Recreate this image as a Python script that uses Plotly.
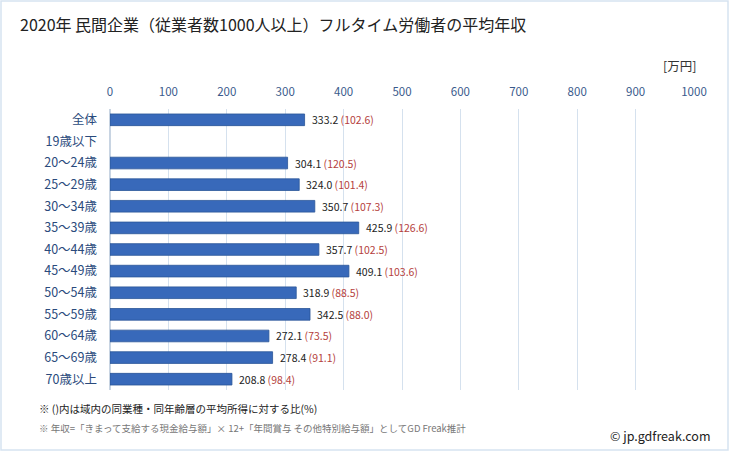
import plotly.graph_objects as go

categories = ["全体", "19歳以下", "20～24歳", "25～29歳", "30～34歳", "35～39歳", "40～44歳",
              "45～49歳", "50～54歳", "55～59歳", "60～64歳", "65～69歳", "70歳以上"]
values = [333.2, None, 304.1, 324.0, 350.7, 425.9, 357.7, 409.1, 318.9, 342.5, 272.1, 278.4, 208.8]
ratios = [102.6, None, 120.5, 101.4, 107.3, 126.6, 102.5, 103.6, 88.5, 88.0, 73.5, 91.1, 98.4]
tick_vals = [0, 100, 200, 300, 400, 500, 600, 700, 800, 900, 1000]

FONT = "Noto Sans CJK JP"

fig = go.Figure()
fig.add_trace(go.Bar(
    y=categories, x=values, orientation="h", width=0.54,
    marker=dict(color="#3869ba", line=dict(color="#2a5698", width=0.8)),
    hoverinfo="skip",
))

annotations = []
for c, v, r in zip(categories, values, ratios):
    if v is None:
        continue
    annotations.append(dict(
        x=v, y=c, xref="x", yref="y", xanchor="left", yanchor="middle", xshift=5,
        showarrow=False,
        text=f"{v:.1f} <span style='color:#b5413d'>({r:.1f})</span>",
        font=dict(family=FONT, size=10.5, color="#222222"),
    ))

pix = [
    dict(x=18, y=24, text="2020年 民間企業（従業者数1000人以上）フルタイム労働者の平均年収",
         xanchor="left", font=dict(family=FONT, size=16, color="#222222")),
    dict(x=698, y=66, text="[万円]", xanchor="right", font=dict(family=FONT, size=12.5, color="#333333")),
    dict(x=37, y=409, text="※ ()内は域内の同業種・同年齢層の平均所得に対する比(%)",
         xanchor="left", font=dict(family=FONT, size=10.5, color="#222222")),
    dict(x=37, y=428, text="※ 年収=「きまって支給する現金給与額」× 12+「年間賞与 その他特別給与額」としてGD Freak推計",
         xanchor="left", font=dict(family=FONT, size=9.5, color="#777777")),
    dict(x=713, y=435, text="© jp.gdfreak.com", xanchor="right", font=dict(family=FONT, size=12.5, color="#222222")),
]
W, H = 729, 451
ml, mr, mt, mb = 110, 35, 109, 61
pw, ph = W - ml - mr, H - mt - mb
for a in pix:
    a.update(xref="paper", yref="paper", showarrow=False, yanchor="middle",
             x=(a["x"] - ml) / pw, y=1 - (a["y"] - mt) / ph)
annotations += pix

fig.update_layout(
    width=W, height=H,
    margin=dict(l=ml, r=mr, t=mt, b=mb),
    paper_bgcolor="white", plot_bgcolor="white",
    showlegend=False,
    xaxis=dict(range=[0, 1000], side="top", tickvals=tick_vals, ticktext=[str(t) for t in tick_vals],
               showgrid=True, gridcolor="#d5e1ee", gridwidth=1, zeroline=True, zerolinecolor="#c8d4e2",
               tickfont=dict(family=FONT, size=11.5, color="#3a5a8c"), ticks="", ticklen=0,
               ticklabelstandoff=10, showline=False, fixedrange=True),
    yaxis=dict(autorange="reversed", categoryorder="array", categoryarray=categories,
               tickfont=dict(family=FONT, size=12.5, color="#2a4a7c"), ticks="", showgrid=False,
               ticklabelstandoff=12, showline=False, fixedrange=True),
    annotations=annotations,
    shapes=[dict(type="rect", xref="paper", yref="paper",
                 x0=(1 - ml) / pw, x1=(W - 1 - ml) / pw, y0=1 - (H - 1 - mt) / ph, y1=1 - (1 - mt) / ph,
                 line=dict(color="#d6e3f1", width=1.5), fillcolor="rgba(0,0,0,0)", layer="below")],
)

fig.write_html("out.html", config={"displayModeBar": False},
               post_script="document.body.style.margin='0px';document.body.style.overflow='hidden';")
